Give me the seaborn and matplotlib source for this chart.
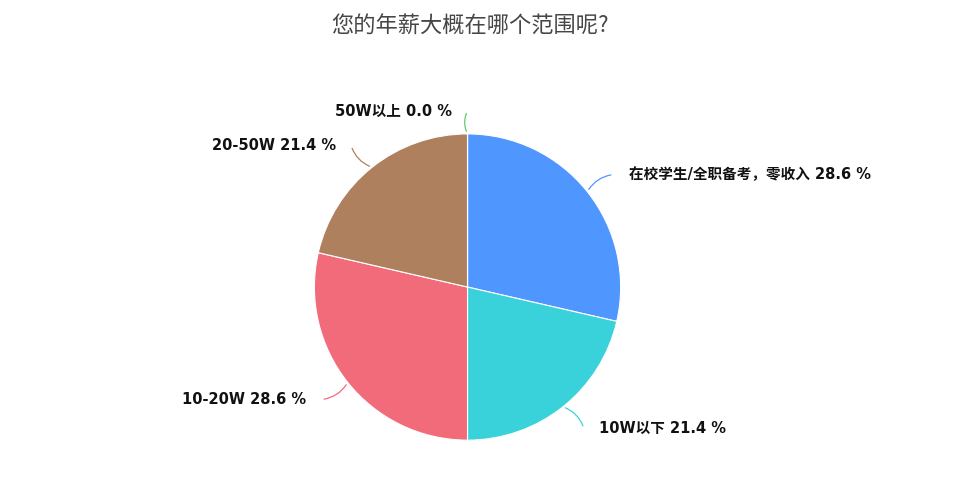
import numpy as np
import matplotlib
matplotlib.use("Agg")
import matplotlib.pyplot as plt
import seaborn as sns

sns.set_theme(style="white")
plt.rcParams['font.family'] = ['DejaVu Sans', 'Noto Sans CJK SC']

# ── Data ─────────────────────────────────────────────────────────────────────
TITLE = "您的年薪大概在哪个范围呢?"
categories = ["在校学生/全职备考，零收入", "10W以下", "10-20W", "20-50W", "50W以上"]
shares = [28.6, 21.4, 28.6, 21.4, 0.0]
colors = ["#5096FF", "#3AD2DA", "#F26B7A", "#AF805E", "#5FCB6B"]

fig = plt.figure(figsize=(9.6, 4.8), dpi=100)
fig.text(0.49, 0.945, TITLE, ha="center", va="center", fontsize=16, color="#464646",
         family=['Noto Sans CJK SC', 'DejaVu Sans'])

ax = fig.add_axes([0.4865 - 0.159, 0.402 - 0.319, 0.319, 0.638])
wedges, _ = ax.pie(shares, colors=colors, startangle=90, counterclock=False,
                   wedgeprops=dict(linewidth=0.8, edgecolor="white"))
ax.set_xlim(-1, 1)
ax.set_ylim(-1, 1)
ax.set_aspect("equal")
ax.axis("off")

for w, name, val, col in zip(wedges, categories, shares, colors):
    mid = np.deg2rad((w.theta1 + w.theta2) / 2)
    x, y = np.cos(mid), np.sin(mid)
    right = x > 1e-6
    tx, ty = 1.22 * x, 1.18 * y
    if not right and abs(x) < 1e-6:
        ty = 1.15
    ax.annotate("", xy=(x, y), xytext=(tx, ty),
                arrowprops=dict(arrowstyle="-", color=col, lw=0.9,
                                connectionstyle="arc3,rad=0.25"))
    ax.text(tx + (0.1 if right else -0.1), ty, f"{name} {val:.1f} %",
            ha="left" if right else "right", va="center",
            fontsize=10.5, fontweight="bold", color="#111111", clip_on=False)

fig.savefig("out.png", dpi=100)
